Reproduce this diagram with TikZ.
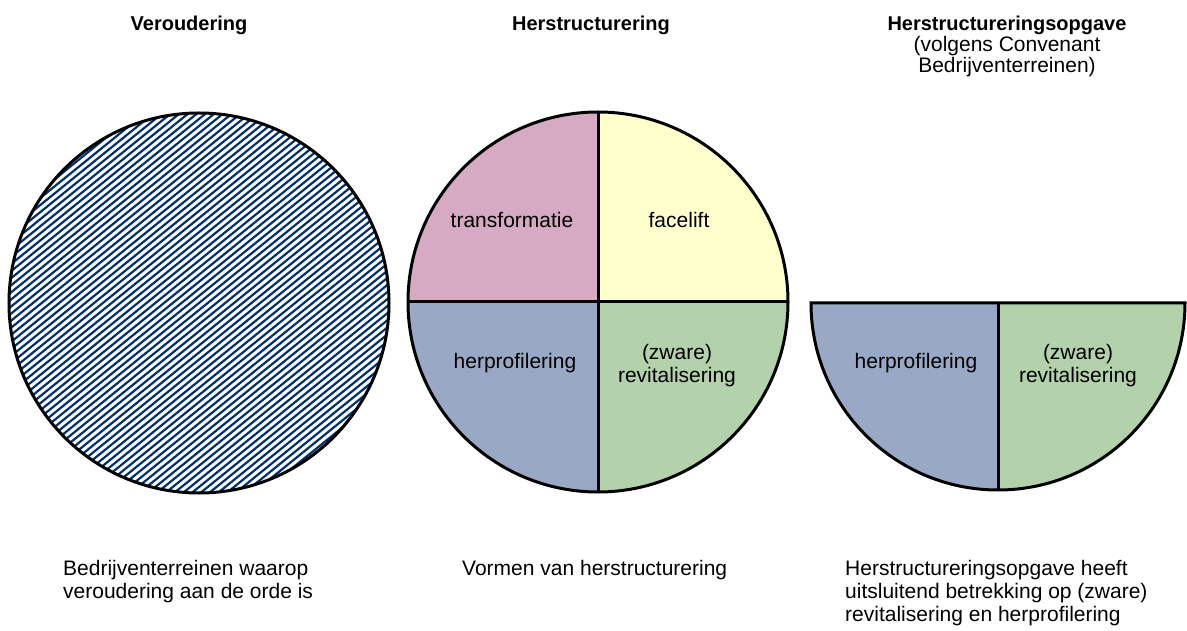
\documentclass[tikz,border=0pt]{standalone}
\usepackage{fontspec}
\setmainfont{Liberation Sans}
\usetikzlibrary{calc}
\definecolor{hatchblue}{HTML}{00316E}
\definecolor{qpink}{HTML}{D6AAC2}
\definecolor{qyellow}{HTML}{FFFFCC}
\definecolor{qblue}{HTML}{99A8C4}
\definecolor{qgreen}{HTML}{B3D1AB}
\tikzset{
  outline/.style={draw=black, line width=3pt},
  hatchline/.style={draw=hatchblue, line width=2.2pt},
  title/.style={font=\fontsize{20}{21}\selectfont\bfseries, anchor=base, inner sep=0pt},
  sub/.style={font=\fontsize{21}{21}\selectfont, anchor=base, inner sep=0pt, align=center},
  caption/.style={font=\fontsize{21}{23}\selectfont, anchor=base west, inner sep=0pt, align=left},
  label/.style={font=\fontsize{21}{23}\selectfont, anchor=base, inner sep=0pt, align=center},
}
\begin{document}
\begin{tikzpicture}[x=1pt,y=1pt]
\useasboundingbox[fill=white] (0,0) rectangle (1187,630);
\coordinate (c1) at (199,327);
\coordinate (c2) at (598,328);
\coordinate (c3) at (998,327);

% circle 1 hatched
\begin{scope}[shift={(199,327)}]
  \begin{scope}
    \clip (0,0) circle (190);
    \begin{scope}[rotate=39]
      \foreach \k in {-40,...,40} {
        \draw[hatchline] (-200,\k*5.5) -- (200,\k*5.5);
      }
    \end{scope}
  \end{scope}
\end{scope}
\draw[outline] (c1) circle (190);

% circle 2 quadrants
\fill[qpink] (c2) -- ++(-190,0) arc (180:90:190) -- cycle;
\fill[qyellow] (c2) -- ++(0,190) arc (90:0:190) -- cycle;
\fill[qblue] (c2) -- ++(-190,0) arc (180:270:190) -- cycle;
\fill[qgreen] (c2) -- ++(0,-190) arc (270:360:190) -- cycle;
\draw[outline] (c2) circle (190);
\draw[outline] ($(c2)+(-190,0)$) -- ($(c2)+(190,0)$);
\draw[outline] ($(c2)+(0,190)$) -- ($(c2)+(0,-190)$);

% half circle 3
\fill[qblue] (c3) -- ++(-187,0) arc (180:270:187) -- cycle;
\fill[qgreen] (c3) -- ++(0,-187) arc (270:360:187) -- cycle;
\draw[outline] ($(c3)+(-187,0)$) arc (180:360:187) -- cycle;
\draw[outline] (c3) -- ($(c3)+(0,-187)$);

% titles
\node[title] (t1) at (189,599) {Veroudering};
\node[title] (t2) at (591,599) {Herstructurering};
\node[title] (t3) at (1007,599) {Herstructureringsopgave};
\node[sub] (t3b) at (1007,557) {(volgens Convenant\\Bedrijventerreinen)};

% labels in circles
\node[label] (l1) at (512,402) {transformatie};
\node[label] (l2) at (679,402) {facelift};
\node[label] (l3) at (515,261) {herprofilering};
\node[label] (l4) at (677,247) {(zware)\\revitalisering};
\node[label] (l5) at (916,261) {herprofilering};
\node[label] (l6) at (1078,247) {(zware)\\revitalisering};

% captions
\node[caption] (b1) at (63,32) {Bedrijventerreinen waarop\\veroudering aan de orde is};
\node[caption] (b2) at (462,55) {Vormen van herstructurering};
\node[caption] (b3) at (845,9) {Herstructureringsopgave heeft\\uitsluitend betrekking op (zware)\\revitalisering en herprofilering};
\end{tikzpicture}
\end{document}
